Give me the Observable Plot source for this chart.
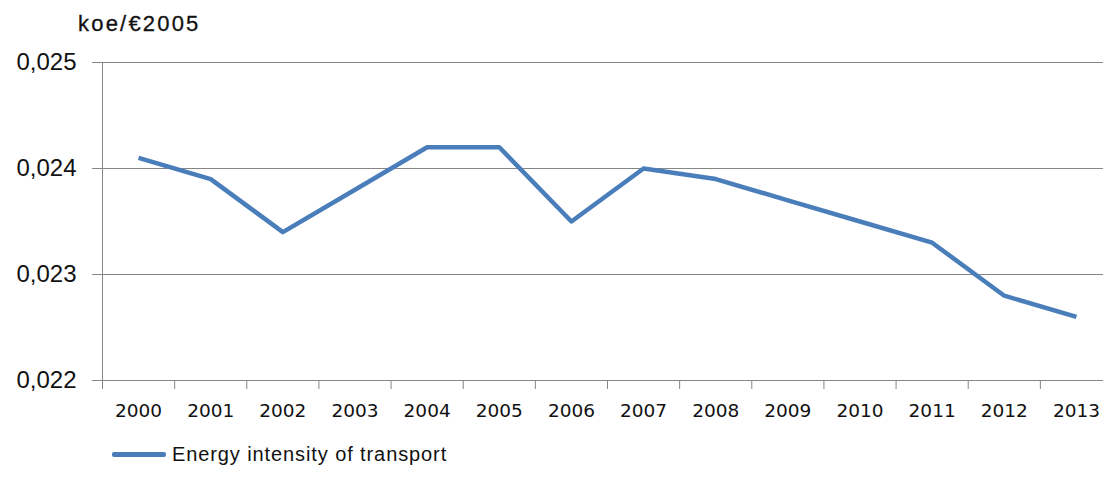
<!DOCTYPE html>
<html>
<head>
<meta charset="utf-8">
<script src="https://cdn.jsdelivr.net/npm/d3@7"></script>
<script src="https://cdn.jsdelivr.net/npm/@observablehq/plot@0.6"></script>
<style>
  html, body { margin: 0; padding: 0; background: #fff; }
  #wrap { position: relative; width: 1103px; height: 493px; overflow: hidden; }
  #title { position: absolute; left: 78px; top: 11px; font: 22px "Liberation Sans", Arial, sans-serif; letter-spacing: 2.2px; color: #111; -webkit-text-stroke: 0.3px #111; }
  #legend { position: absolute; left: 112px; top: 443px; font: 20px "Liberation Sans", Arial, sans-serif; letter-spacing: 0.9px; color: #111; display: flex; align-items: center; }
  #legend .sw { width: 54px; height: 5px; background: #4a7ebb; border-radius: 2px; margin-right: 6px; }
  #chart { position: absolute; left: 0; top: 0; }
</style>
</head>
<body>
<div id="wrap">
  <div id="chart"></div>
  <div id="title">koe/€2005</div>
  <div id="legend"><span class="sw"></span><span>Energy intensity of transport</span></div>
</div>
<script>
const years = [2000, 2001, 2002, 2003, 2004, 2005, 2006, 2007, 2008, 2009, 2010, 2011, 2012, 2013];
const intensity = [0.0241, 0.0239, 0.0234, 0.0238, 0.0242, 0.0242, 0.0235, 0.0240, 0.0239, 0.0237, 0.0235, 0.0233, 0.0228, 0.0226];
const yTicks = [0.022, 0.023, 0.024, 0.025];
const seriesName = "Energy intensity of transport";

const data = years.map((y, i) => ({year: y, value: intensity[i]}));
const boundaries = years.map(y => y - 0.5);
const fmt = v => d3.format(".3f")(v).replace(".", ",");

const plot = Plot.plot({
  width: 1103,
  height: 493,
  marginLeft: 102,
  marginTop: 62,
  marginBottom: 113,
  marginRight: 0,
  x: {domain: [1999.5, 2013.5], range: [102, 1112]},
  y: {domain: [0.022, 0.025], range: [380, 62]},
  style: {fontFamily: "'Liberation Sans', Arial, sans-serif", color: "#111"},
  marks: [
    Plot.ruleY(yTicks, {stroke: "#868686", strokeWidth: 1, strokeOpacity: 1}),
    Plot.ruleX([1999.5], {stroke: "#868686", strokeWidth: 1, strokeOpacity: 1}),
    Plot.axisY(yTicks, {tickSize: 10, tickPadding: 16, tickFormat: fmt, stroke: "#868686", strokeOpacity: 1, fontSize: 24, letterSpacing: "1.3px", label: null}),
    Plot.axisX(boundaries, {tickSize: 9, text: null, stroke: "#868686", strokeOpacity: 1, label: null}),
    Plot.axisX(years, {tickSize: 0, tickPadding: 23, tickFormat: d => String(d), fontSize: 18.5, fontFamily: "'DejaVu Sans', Verdana, sans-serif", letterSpacing: "2.6px", label: null}),
    Plot.line(data, {x: "year", y: "value", stroke: "#4a7ebb", strokeWidth: 4.5, strokeLinejoin: "round", strokeLinecap: "butt", title: () => seriesName})
  ]
});
document.getElementById("chart").appendChild(plot);
</script>
</body>
</html>
